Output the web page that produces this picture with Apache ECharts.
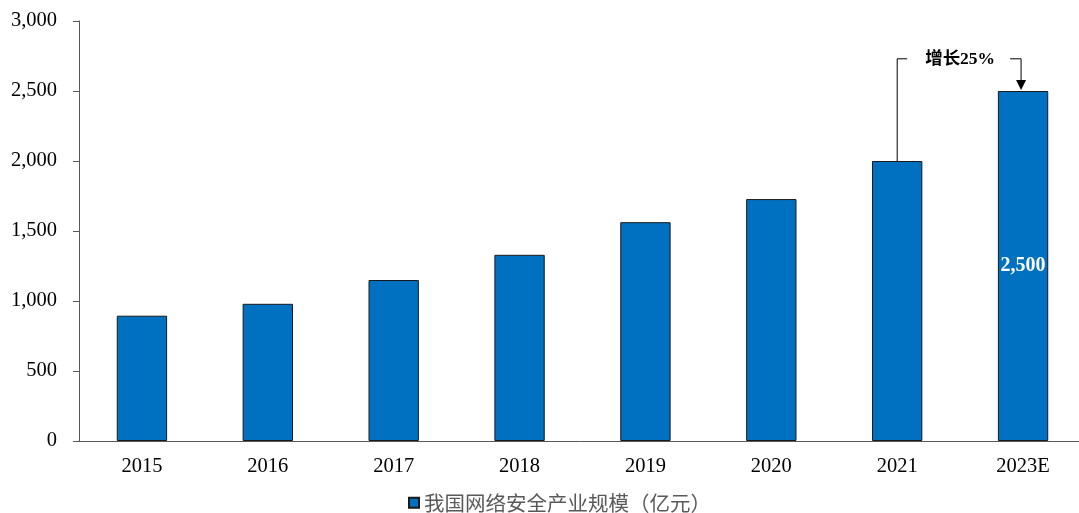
<!DOCTYPE html>
<html><head><meta charset="utf-8">
<script src="https://cdn.jsdelivr.net/npm/echarts@6/dist/echarts.min.js"></script>
<style>html,body{margin:0;padding:0;background:#fff}#c{width:1079px;height:513px}</style>
</head><body><div id="c"></div>
<script>
const categories = ['2015','2016','2017','2018','2019','2020','2021','2023E'];
const values = [895, 980, 1150, 1330, 1563, 1728, 2000, 2500];
const seriesName = '我国网络安全产业规模（亿元）';
const yTicks = [0, 500, 1000, 1500, 2000, 2500, 3000];
const annotationText = '增长25%';
const bracketLevel = 2730;

const chart = echarts.init(document.getElementById('c'));
const fmt = v => v.toLocaleString('en-US');
chart.setOption({
  animation: false,
  grid: { left: 79, top: 21, width: 1007, height: 420, outerBoundsMode: 'none', containLabel: false },
  legend: {
    data: [{ name: seriesName, icon: 'rect' }],
    bottom: -5, left: 403, itemWidth: 10, itemHeight: 10, itemGap: 5,
    textStyle: { fontFamily: 'Noto Sans CJK SC', fontSize: 20.5, color: '#595959' }
  },
  xAxis: {
    type: 'category', data: categories,
    axisLine: { lineStyle: { color: '#595959', width: 1 } },
    axisTick: { show: false },
    axisLabel: { fontFamily: 'Liberation Serif', fontSize: 20.5, color: '#000', margin: 15 }
  },
  yAxis: {
    type: 'value', min: yTicks[0], max: yTicks[yTicks.length-1], interval: 500,
    splitLine: { show: false },
    axisLine: { show: true, lineStyle: { color: '#595959', width: 1 } },
    axisTick: { show: true, length: 6, lineStyle: { color: '#595959' } },
    axisLabel: { fontFamily: 'Liberation Serif', fontSize: 20.5, color: '#000', margin: 22, formatter: fmt }
  },
  series: [{
    name: seriesName, type: 'bar', data: values, barWidth: '40%',
    itemStyle: { color: '#0070C0', borderColor: '#1a1a1a', borderWidth: 1 },
    label: {
      show: true, position: 'inside', color: '#fff', fontFamily: 'Liberation Serif',
      fontWeight: 'bold', fontSize: 20,
      formatter: p => p.dataIndex === values.length - 1 ? fmt(p.value) : ''
    }
  }]
});

const a = chart.convertToPixel({ seriesIndex: 0 }, [6, values[6]]);
const b = chart.convertToPixel({ seriesIndex: 0 }, [7, values[7]]);
const topY = chart.convertToPixel({ seriesIndex: 0 }, [6, bracketLevel])[1];
const ax = a[0], bx = b[0] - 2;
const midX = (ax + bx) / 2 + 1;
chart.setOption({
  graphic: [
    { type: 'polyline', shape: { points: [[ax, a[1]], [ax, topY], [ax + 10, topY]] }, style: { stroke: '#000', lineWidth: 1, fill: null } },
    { type: 'polyline', shape: { points: [[bx - 11, topY], [bx, topY], [bx, b[1] - 10]] }, style: { stroke: '#000', lineWidth: 1, fill: null } },
    { type: 'polygon', shape: { points: [[bx - 5, b[1] - 11], [bx + 5, b[1] - 11], [bx, b[1] - 1]] }, style: { fill: '#000' } },
    { type: 'text', x: midX, y: topY + 1, style: { text: annotationText, fontFamily: 'Liberation Serif, Noto Sans CJK SC', fontWeight: 'bold', fontSize: 17.5, fill: '#000', align: 'center', verticalAlign: 'middle' } }
  ]
});
</script></body></html>
